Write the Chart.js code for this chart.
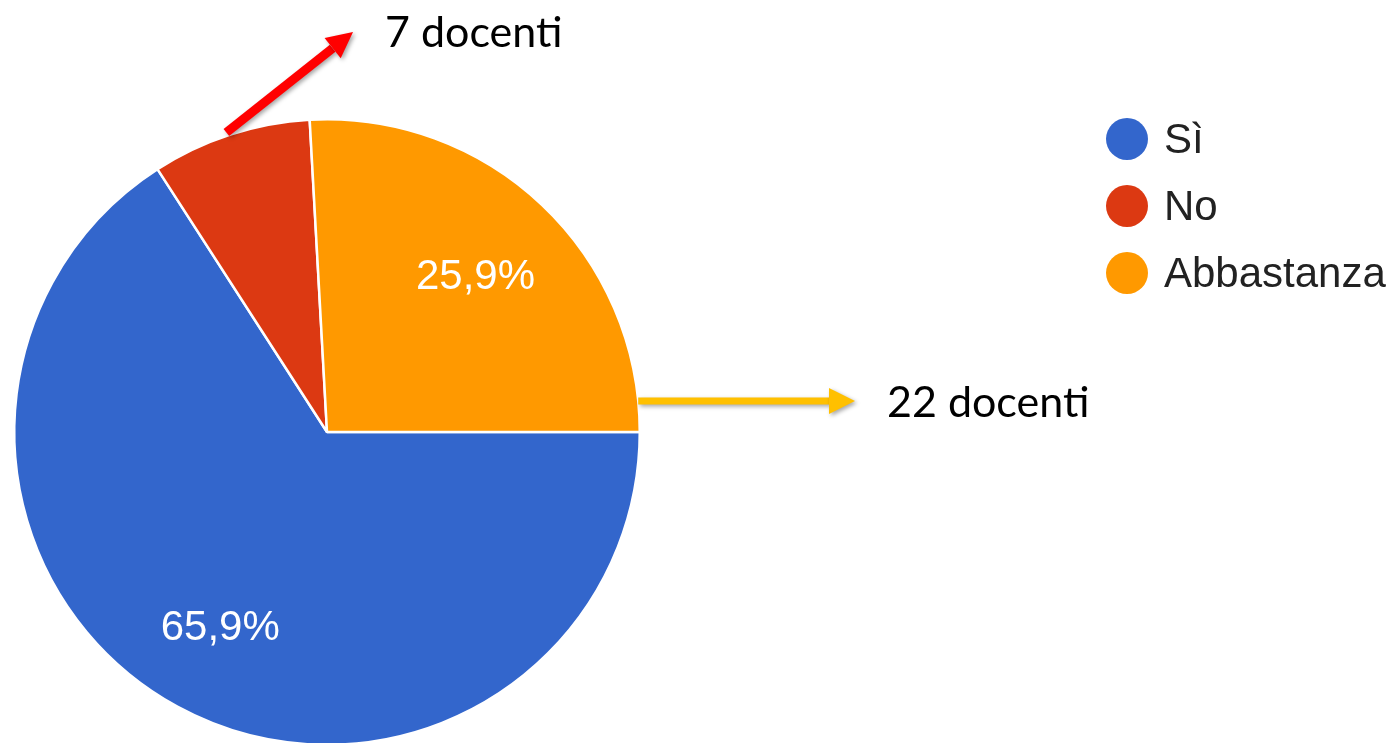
<!DOCTYPE html>
<html>
<head>
<meta charset="utf-8">
<script src="https://cdn.jsdelivr.net/npm/chart.js@4/dist/chart.umd.min.js"></script>
<style>
  html, body { margin: 0; padding: 0; background: #fff; overflow: hidden; }
  #wrap { width: 1393px; height: 760px; }
</style>
</head>
<body>
<div id="wrap"><canvas id="pieChart" width="1393" height="760"></canvas></div>
<script>
// risposte del questionario
var etichette = ['Sì', 'No', 'Abbastanza'];
var valori = [56, 7, 22];
var colori = ['#3366CC', '#DC3912', '#FF9900'];
// note aggiunte a mano sull'immagine
var noteTesti = ['7 docenti', '22 docenti'];

function freccia(ctx, x1, y1, x2, y2, colore, spessore) {
    var ang = Math.atan2(y2 - y1, x2 - x1);
    var lungTesta = 26, largTesta = 13;
    var bx = x2 - Math.cos(ang) * lungTesta;
    var by = y2 - Math.sin(ang) * lungTesta;
    ctx.save();
    ctx.shadowColor = 'rgba(0,0,0,0.35)';
    ctx.shadowBlur = 4;
    ctx.shadowOffsetX = 2;
    ctx.shadowOffsetY = 2;
    ctx.strokeStyle = colore;
    ctx.fillStyle = colore;
    ctx.lineWidth = spessore;
    ctx.beginPath();
    ctx.moveTo(x1, y1);
    ctx.lineTo(bx, by);
    ctx.stroke();
    ctx.beginPath();
    ctx.moveTo(x2, y2);
    ctx.lineTo(bx + Math.cos(ang + Math.PI / 2) * largTesta, by + Math.sin(ang + Math.PI / 2) * largTesta);
    ctx.lineTo(bx - Math.cos(ang + Math.PI / 2) * largTesta, by - Math.sin(ang + Math.PI / 2) * largTesta);
    ctx.closePath();
    ctx.fill();
    ctx.restore();
}

var etichettePlugin = {
    id: 'etichette',
    afterDatasetsDraw: function (chart) {
        var ctx = chart.ctx;
        var meta = chart.getDatasetMeta(0);
        var totale = valori.reduce(function (a, b) { return a + b; }, 0);
        ctx.save();
        ctx.font = '42px "Liberation Sans", Arial, sans-serif';
        ctx.fillStyle = '#fff';
        ctx.textAlign = 'center';
        ctx.textBaseline = 'middle';
        meta.data.forEach(function (arc, i) {
            var perc = valori[i] / totale * 100;
            if (perc < 10) return;
            var p = arc.getProps(['x', 'y', 'startAngle', 'endAngle', 'outerRadius'], true);
            var mid = (p.startAngle + p.endAngle) / 2;
            var r = p.outerRadius * 0.7;
            ctx.fillText(perc.toFixed(1).replace('.', ',') + '%', p.x + Math.cos(mid) * r - 2, p.y + Math.sin(mid) * r + 4);
        });

        // legenda a destra
        ctx.font = '42px "Liberation Sans", Arial, sans-serif';
        ctx.textAlign = 'left';
        etichette.forEach(function (lab, i) {
            var y = 139 + i * 67;
            ctx.fillStyle = colori[i];
            ctx.beginPath();
            ctx.arc(1127, y, 21, 0, Math.PI * 2);
            ctx.fill();
            ctx.fillStyle = '#222';
            ctx.fillText(lab, 1164, y + 2);
        });

        // frecce e note
        var no = meta.data[1].getProps(['x', 'y', 'startAngle', 'endAngle', 'outerRadius'], true);
        var midNo = (no.startAngle + no.endAngle) / 2;
        freccia(ctx, no.x + Math.cos(midNo) * no.outerRadius - 4, no.y + Math.sin(midNo) * no.outerRadius - 2, 353, 32, '#FF0000', 9);
        var ab = meta.data[2].getProps(['x', 'y', 'outerRadius'], true);
        var yy = ab.y - 31;
        freccia(ctx, ab.x + Math.sqrt(ab.outerRadius * ab.outerRadius - 31 * 31), yy, 855, yy, '#FFC000', 7);

        ctx.fillStyle = '#000';
        ctx.font = '43px Lato, "Open Sans", sans-serif';
        ctx.textBaseline = 'alphabetic';
        ctx.fillText(noteTesti[0], 385, 47);
        ctx.fillText(noteTesti[1], 887, 417);
        ctx.restore();
    }
};

var ctx = document.getElementById('pieChart').getContext('2d');
var myChart = new Chart(ctx, {
    type: 'pie',
    data: {
        labels: etichette,
        datasets: [{
            data: valori,
            backgroundColor: colori,
            borderColor: '#fff',
            borderWidth: 2.5
        }]
    },
    options: {
        responsive: false,
        animation: false,
        rotation: 90,
        layout: { padding: { left: 13, top: 118, right: 752, bottom: 14 } },
        plugins: {
            legend: { display: false },
            tooltip: { enabled: false }
        }
    },
    plugins: [etichettePlugin]
});
</script>
</body>
</html>
